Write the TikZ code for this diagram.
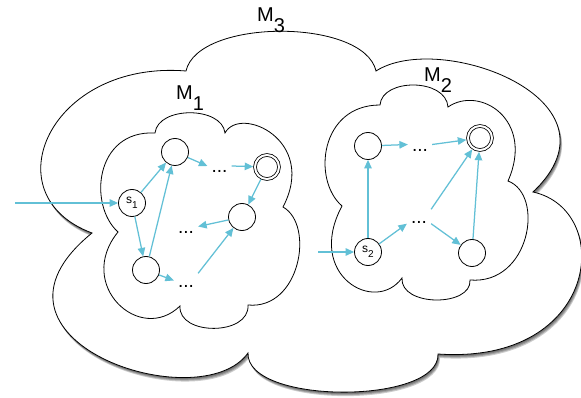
\documentclass[tikz,border=0pt]{standalone}
\usepackage{fontspec}
\setmainfont{Liberation Sans}
\usetikzlibrary{arrows.meta}
\definecolor{edgeblue}{RGB}{98,192,214}

% outline of the enclosing machine M3
\newcommand\outercloudpath{(186,71) .. controls (198,18) and (364,18) .. (376,71)
  .. controls (440,30) and (630,100) .. (533,192)
  .. controls (615,210) and (600,365) .. (438,354)
  .. controls (440,405) and (246,405) .. (248,353)
  .. controls (200,420) and (-40,340) .. (92,233)
  .. controls (-10,195) and (50,60) .. (186,71) -- cycle}

\begin{document}
\begin{tikzpicture}[x=1pt,y=-1pt,
  cloud/.style={draw=black, line width=0.8pt, fill=white},
  stnode/.style={circle, draw=black, line width=0.8pt, minimum size=27pt,
    inner sep=0pt, fill=white, font=\fontsize{12}{12}\selectfont},
  finalnode/.style={stnode, double, double distance=2pt, minimum size=24pt, outer sep=1.8pt},
  ellip/.style={inner xsep=4pt, inner ysep=0pt, text height=14pt, text depth=0pt,
    anchor=base, font=\fontsize{19}{19}\selectfont},
  tag/.style={inner sep=0pt, anchor=base west, font=\fontsize{20}{20}\selectfont},
  arr/.style={draw=edgeblue, line width=1.25pt, -{Triangle[length=8.5pt,width=7.5pt]}}]

\useasboundingbox (0,0) rectangle (581,398);

% soft shadow under the outer cloud
\foreach \d in {1,2,3,4}
  \fill[black, opacity=0.2, shift={(0.5*\d,\d)}] \outercloudpath;
\draw[cloud] \outercloudpath;

% machine M1
\draw[cloud] (155,133) .. controls (158,106) and (222,106) .. (225,133)
  .. controls (240,105) and (318,140) .. (283,207)
  .. controls (315,225) and (300,310) .. (248,305)
  .. controls (250,336) and (178,336) .. (180,306)
  .. controls (140,345) and (75,285) .. (118,232)
  .. controls (88,205) and (95,130) .. (155,133) -- cycle;

% machine M2
\draw[cloud] (380,105) .. controls (382,78) and (446,78) .. (448,107)
  .. controls (480,85) and (535,120) .. (508,181)
  .. controls (545,195) and (530,285) .. (470,280)
  .. controls (472,307) and (400,307) .. (402,278)
  .. controls (375,315) and (305,275) .. (342,206)
  .. controls (312,180) and (320,105) .. (380,105) -- cycle;

% labels
\node[tag] (m3lbl) at (257,22) {M\raisebox{-11pt}{3}};
\node[tag] (m1lbl) at (176,100) {M\raisebox{-11pt}{1}};
\node[tag] (m2lbl) at (424,82) {M\raisebox{-11pt}{2}};

% states of M1
\node[stnode] (m1s) at (132,203) {\raisebox{2.5pt}{s}\raisebox{-2.5pt}{\fontsize{10}{10}\selectfont 1}};
\node[stnode] (m1a) at (175,152) {};
\node[finalnode] (m1f) at (267,167) {};
\node[stnode] (m1c) at (242,217) {};
\node[stnode] (m1b) at (146,270) {};
\node[ellip] (m1d1) at (219.5,173) {...};
\node[ellip] (m1d2) at (186,233.5) {...};
\node[ellip] (m1d3) at (186,287.5) {...};
\coordinate (in1) at (15,203);

% states of M2
\node[stnode] (m2s) at (368,252) {\raisebox{2.5pt}{s}\raisebox{-2.5pt}{\fontsize{10}{10}\selectfont 2}};
\node[stnode] (m2a) at (368,146) {};
\node[finalnode] (m2f) at (480,138) {};
\node[stnode] (m2b) at (472,253) {};
\node[ellip] (m2d1) at (420,151.5) {...};
\node[ellip] (m2d2) at (419,223.5) {...};
\coordinate (in2) at (318,252);

% transitions of M1
\draw[arr] (in1) -- (m1s);
\draw[arr] (m1s) -- (m1a);
\draw[arr] (m1s) -- (m1b);
\draw[arr] (m1b) -- (m1a);
\draw[arr] (m1a) -- (m1d1.west);
\draw[arr] (m1d1.east) -- (m1f);
\draw[arr] (m1f) -- (m1c);
\draw[arr] (m1c) -- (m1d2.east);
\draw[arr] (m1b) -- (m1d3.west);
\draw[arr] (m1d3.north east) -- (m1c);

% transitions of M2
\draw[arr] (in2) -- (m2s);
\draw[arr] (m2s) -- (m2a);
\draw[arr] (m2a) -- (m2d1.west);
\draw[arr] (m2d1.east) -- (m2f);
\draw[arr] (m2s) -- (m2d2.south west);
\draw[arr] (m2d2.south east) -- (m2b);
\draw[arr] (m2d2.north east) -- (m2f);
\draw[arr] (m2b) -- (m2f);
\end{tikzpicture}
\end{document}
